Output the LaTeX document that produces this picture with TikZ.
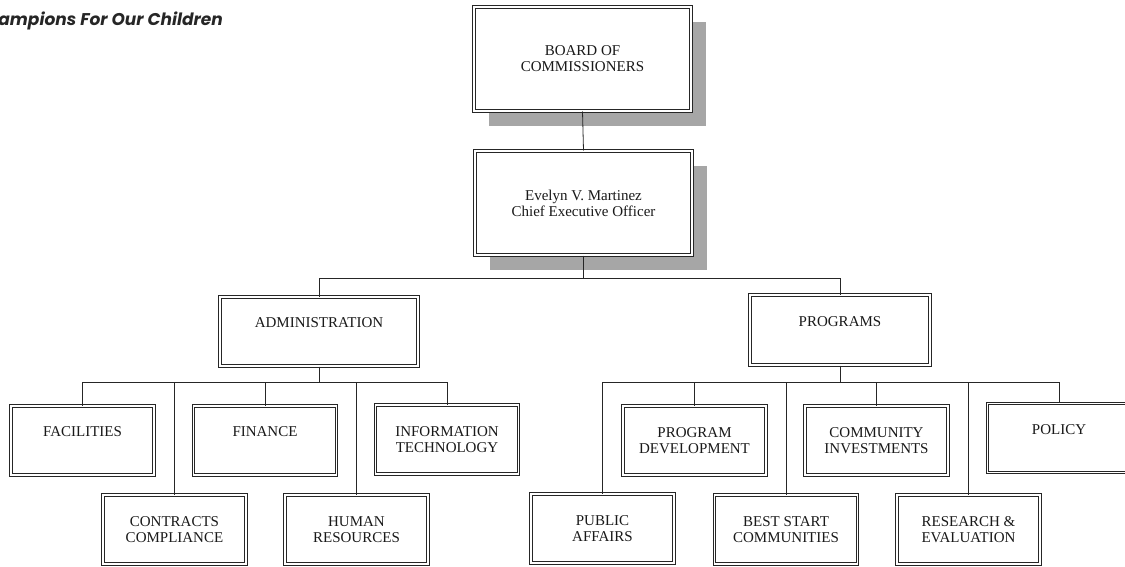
\documentclass[tikz,border=0pt]{standalone}
\usepackage{fontspec}
\setmainfont{Liberation Serif}
\newfontfamily\titlefont{Poppins}
\usetikzlibrary{shadows}

\begin{document}
\begin{tikzpicture}[x=1pt, y=-1pt]
    % Box style definitions
    \tikzset{
        unit/.style={draw=black!85, double, double distance=1.8pt, line width=1pt,
            fill=white, inner sep=0pt, align=center, text=black!90,
            font=\fontsize{15}{16}\selectfont},
        small/.style={unit, minimum width=143pt, minimum height=69pt},
        oneline/.style={text depth=17pt},
        head/.style={unit, minimum width=217pt, minimum height=104pt,
            drop shadow={shadow xshift=15pt, shadow yshift=-15pt, fill=black!35, opacity=1}},
        link/.style={black!85, line width=0.8pt}
    }
    \useasboundingbox (0,0) rectangle (1125,567);

    \node[anchor=base east, inner sep=0pt, text=black!85,
        font={\titlefont\fontsize{17}{20}\selectfont\bfseries\itshape}] (title) at (223,26) {Champions For Our Children};

    % ==========================================
    % TOP (board and chief executive)
    % ==========================================
    \node[head] (board) at (582.5,59) {BOARD OF\\COMMISSIONERS};
    \node[head] (ceo) at (583.5,203) {Evelyn V. Martinez\\Chief Executive Officer};

    \node[unit, oneline, minimum width=198pt, minimum height=69pt] (admin) at (319,331.5) {ADMINISTRATION};
    \node[unit, oneline, minimum width=180pt, minimum height=70pt] (programs) at (840,330) {PROGRAMS};

    % ==========================================
    % ADMINISTRATION units
    % ==========================================
    \node[small, oneline] (facilities) at (82.5,440.5) {FACILITIES};
    \node[small, oneline] (finance) at (265,440.5) {FINANCE};
    \node[small] (infotech) at (447,439.5) {INFORMATION\\TECHNOLOGY};
    \node[small] (contracts) at (174.5,529.5) {CONTRACTS\\COMPLIANCE};
    \node[small] (hr) at (356.5,529.5) {HUMAN\\RESOURCES};

    % ==========================================
    % PROGRAMS units
    % ==========================================
    \node[small] (progdev) at (694.5,440.5) {PROGRAM\\DEVELOPMENT};
    \node[small] (community) at (876.5,440.5) {COMMUNITY\\INVESTMENTS};
    \node[small, oneline] (policy) at (1059,438) {POLICY};
    \node[small] (publicaffairs) at (602.5,528.5) {PUBLIC\\AFFAIRS};
    \node[small] (beststart) at (786,529.5) {BEST START\\COMMUNITIES};
    \node[small] (research) at (968.5,529.5) {RESEARCH \&\\EVALUATION};

    % Connectors
    \coordinate (topbus) at (583.5,278);
    \coordinate (adminbus) at (319,382);
    \coordinate (progbus) at (840,382);

    \draw[link] (board.south) -- (ceo.north);
    \draw[link] (ceo.south) -- (topbus);
    \draw[link] (topbus) -| (admin.north);
    \draw[link] (topbus) -| (programs.north);

    \draw[link] (admin.south) -- (adminbus);
    \foreach \unitname in {facilities, finance, infotech, contracts, hr}
        \draw[link] (adminbus) -| (\unitname.north);

    \draw[link] (programs.south) -- (progbus);
    \foreach \unitname in {publicaffairs, progdev, beststart, community, research, policy}
        \draw[link] (progbus) -| (\unitname.north);
\end{tikzpicture}
\end{document}
